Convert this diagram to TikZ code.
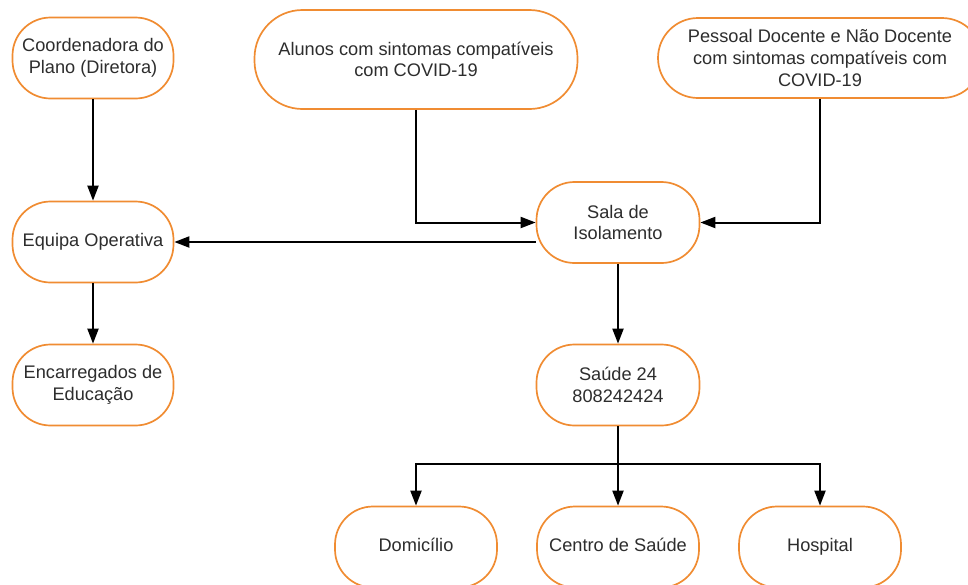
\documentclass[tikz,border=0pt]{standalone}
\usepackage{fontspec}
\setmainfont{Liberation Sans}
\usetikzlibrary{arrows.meta}
\definecolor{bord}{RGB}{240,140,50}
\definecolor{txt}{RGB}{45,45,45}
\begin{document}
\begin{tikzpicture}[x=1pt,y=-1pt,
  box/.style={draw=bord, line width=1.7pt, rounded corners=38pt, fill=white, align=center,
    text=txt, font=\fontsize{18.2}{21.7}\selectfont, inner sep=0pt,
    minimum width=161pt, minimum height=81pt},
  conn/.style={line width=2pt, -{Triangle[length=15pt,width=11pt]}}]
\useasboundingbox (0,0) rectangle (968,584);
\node[box] (coord) at (93,58) {Coordenadora do\\Plano (Diretora)};
\node[box] (equipa) at (93,242) {Equipa Operativa};
\node[box] (encar) at (93,385) {Encarregados de\\Educação};
\node[box, minimum width=323pt, minimum height=99pt, rounded corners=48pt] (alunos) at (416,59.5) {Alunos com sintomas compatíveis\\com COVID-19};
\node[box, minimum width=324pt, minimum height=80pt, rounded corners=40pt] (pessoal) at (820,58) {Pessoal Docente e Não Docente\\com sintomas compatíveis com\\COVID-19};
\node[box, minimum width=163pt] (sala) at (618,222.5) {Sala de\\Isolamento};
\node[box, minimum width=163pt] (saude) at (618,385) {Saúde 24\\808242424};
\node[box, minimum width=162pt] (domic) at (416,547) {Domicílio\vphantom{p}};
\node[box, minimum width=162pt] (centro) at (618,547) {Centro de Saúde\vphantom{p}};
\node[box, minimum width=162pt] (hosp) at (820,547) {Hospital};
\coordinate (split) at (618,464);
\draw[conn] (coord) -- (equipa);
\draw[conn] (equipa) -- (encar);
\draw[conn] (alunos.south) |- (sala.west);
\draw[conn] (pessoal.south) |- (sala.east);
\draw[conn] (sala.west |- equipa.east) -- (equipa.east);
\draw[conn] (sala) -- (saude);
\draw[conn] (saude) -- (centro);
\draw[conn] (split) -| (domic);
\draw[conn] (split) -| (hosp);
\end{tikzpicture}
\end{document}
